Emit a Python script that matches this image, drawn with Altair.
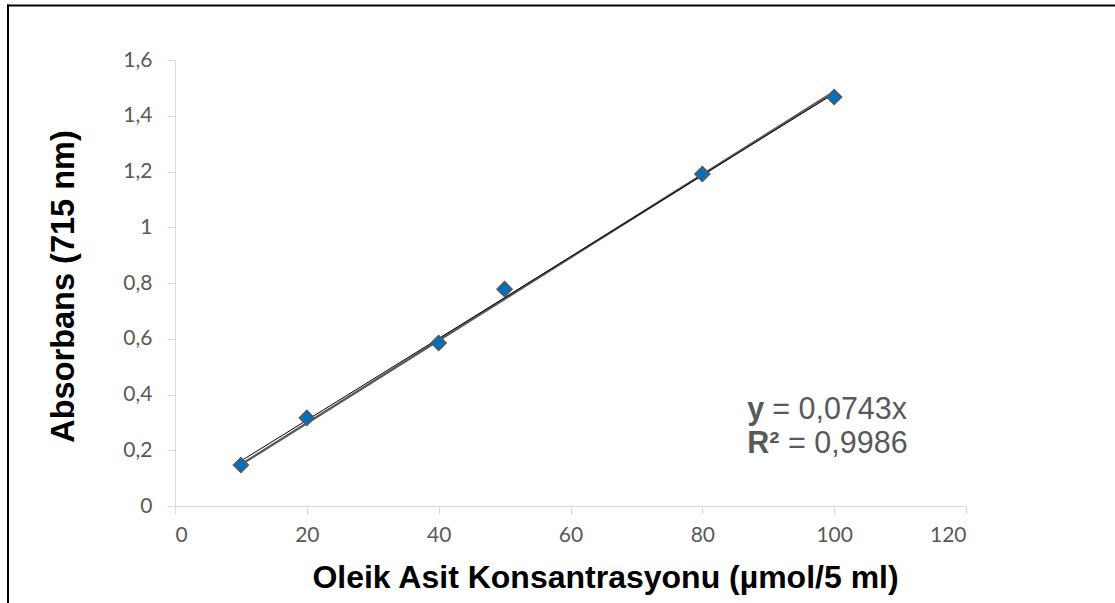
import altair as alt
import numpy as np
import pandas as pd

# Calibration points: oleic acid concentration vs absorbance at 715 nm
concentration = [10, 20, 40, 50, 80, 100]
absorbance = [0.147, 0.316, 0.585, 0.778, 1.191, 1.467]

x_arr = np.array(concentration, dtype=float)
y_arr = np.array(absorbance, dtype=float)
span = [concentration[0], concentration[-1]]

# Trendline forced through the origin (least squares)
slope0 = float((x_arr * y_arr).sum() / (x_arr ** 2).sum())
trend0_y = [slope0 * v for v in span]

# Ordinary linear trendline with intercept
slope1, icept1 = np.polyfit(x_arr, y_arr, 1)
trend1_y = [float(slope1 * v + icept1) for v in span]

equation_bold = ["y", "R²"]
equation_rest = ["= 0,0743x", "= 0,9986"]
equation_bold_x = [86.8, 86.8]
equation_rest_x = [90.6, 93.0]
equation_y = [0.311, 0.190]

x_title = "Oleik Asit Konsantrasyonu (µmol/5 ml)"
y_title = "Absorbans (715 nm)"

FONT = "Liberation Sans, Arial"
LABEL_FONT = "Lato"
GRAY = "#595959"
AXIS_GRAY = "#d9d9d9"

points = pd.DataFrame({"x": concentration, "y": absorbance})
trend0 = pd.DataFrame({"x": span, "y": trend0_y})
trend1 = pd.DataFrame({"x": span, "y": trend1_y})
eq = pd.DataFrame({
    "bold": equation_bold, "rest": equation_rest,
    "xb": equation_bold_x, "xr": equation_rest_x, "y": equation_y,
})

x_scale = alt.Scale(domain=[0, 120], nice=False, zero=False)
y_scale = alt.Scale(domain=[0, 1.6], nice=False, zero=False)

x_axis = alt.Axis(
    title=x_title, values=list(range(0, 121, 20)), grid=False,
    domainColor=AXIS_GRAY, tickColor=AXIS_GRAY, tickSize=8,
    labelFont=LABEL_FONT, labelFontSize=21, labelColor=GRAY, labelPadding=10,
    titleFont=FONT, titleFontSize=32, titleFontWeight="bold", titleColor="black",
    titleX=430, titleY=81, titleBaseline="alphabetic", titleAlign="center",
)
y_axis = alt.Axis(
    title=y_title, values=[0, 0.2, 0.4, 0.6, 0.8, 1.0, 1.2, 1.4, 1.6], grid=False,
    labelExpr="replace(format(datum.value, '.1~f'), '.', ',')",
    domainColor=AXIS_GRAY, tickColor=AXIS_GRAY, tickSize=8,
    labelFont=LABEL_FONT, labelFontSize=21, labelColor=GRAY, labelPadding=15,
    titleFont=FONT, titleFontSize=32.5, titleFontWeight="bold", titleColor="black",
    titleX=-102, titleY=226, titleAngle=-90, titleBaseline="alphabetic",
    titleAlign="center",
)

origin_line = alt.Chart(trend0).mark_line(color=GRAY, strokeWidth=2.4).encode(
    x=alt.X("x:Q", scale=x_scale, axis=x_axis),
    y=alt.Y("y:Q", scale=y_scale, axis=y_axis),
)
fit_line = alt.Chart(trend1).mark_line(color="black", strokeWidth=1).encode(
    x="x:Q", y="y:Q"
)
markers = alt.Chart(points).mark_point(
    shape="diamond", filled=True, fill="#0070C0", stroke=GRAY,
    strokeWidth=1.6, size=220, opacity=1,
).encode(x="x:Q", y="y:Q")

eq_bold = alt.Chart(eq).mark_text(
    font=FONT, fontSize=30.5, fontWeight="bold", color=GRAY,
    align="left", baseline="alphabetic",
).encode(x="xb:Q", y="y:Q", text="bold:N")
eq_rest = alt.Chart(eq).mark_text(
    font=FONT, fontSize=30.5, color=GRAY, align="left", baseline="alphabetic",
).encode(x="xr:Q", y="y:Q", text="rest:N")

# Frame lines along the top and left edges of the figure
frame_src = pd.DataFrame({"k": [0]})
frame_top = alt.Chart(frame_src).mark_rule(color="black", strokeWidth=2).encode(
    x=alt.value(-168), x2=alt.value(940), y=alt.value(-54.5)
)
frame_left = alt.Chart(frame_src).mark_rule(color="black", strokeWidth=2).encode(
    x=alt.value(-167), y=alt.value(-55.5), y2=alt.value(543)
)

chart = alt.layer(
    origin_line, fit_line, markers, eq_bold, eq_rest, frame_top, frame_left
).properties(
    width=791, height=446, autosize="none",
    padding={"left": 175, "top": 60, "right": 149, "bottom": 97},
    background="white",
).configure_view(stroke=None)

chart.save("out.html", embed_options={"renderer": "svg", "actions": False})
